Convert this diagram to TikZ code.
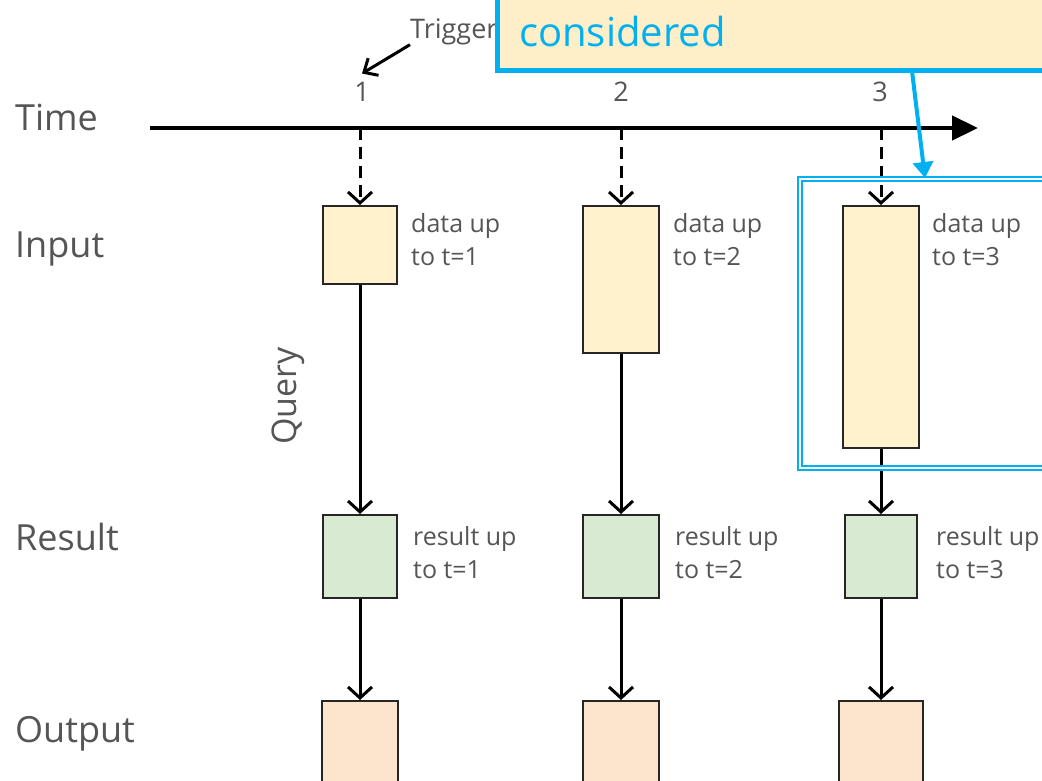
\documentclass[tikz,border=0pt]{standalone}
\usepackage{fontspec}
\setmainfont{Open Sans}
\usetikzlibrary{arrows.meta,positioning}

\definecolor{inputfill}{HTML}{FFF2CC}
\definecolor{resultfill}{HTML}{D9EAD3}
\definecolor{outputfill}{HTML}{FCE4CD}
\definecolor{calloutblue}{HTML}{00B0F0}
\definecolor{calloutfill}{HTML}{FFEFC9}
\definecolor{labelgray}{HTML}{555555}

\tikzset{
  rowlabel/.style={font=\fontsize{36}{40}\selectfont, text=labelgray, anchor=base west, inner sep=0},
  ticklabel/.style={font=\fontsize{27}{30}\selectfont, text=labelgray, anchor=base, inner sep=0},
  sidetext/.style={font=\fontsize{25}{33}\selectfont, text=labelgray, align=left, anchor=north west, inner sep=0},
  box/.style={draw=black!85, line width=2pt, anchor=north, inner sep=0},
  inputbox/.style={box, fill=inputfill},
  resultbox/.style={box, fill=resultfill, minimum height=83pt},
  outputbox/.style={box, fill=outputfill, minimum height=100pt},
  flow/.style={line width=3pt, -{Straight Barb[length=11pt, width=24pt]}},
  trigflow/.style={flow, dash pattern=on 12pt off 7pt},
}

\begin{document}
\begin{tikzpicture}[x=1pt, y=-1pt]
  \useasboundingbox (0,0) rectangle (1042,780);
  \clip (0,0) rectangle (1042,780);

  % Row labels
  \node[rowlabel] (lbltime) at (15,130) {Time};
  \node[rowlabel] (lblinput) at (15,257) {Input};
  \node[rowlabel] (lblresult) at (15,550) {Result};
  \node[rowlabel] (lbloutput) at (15,742) {Output};

  % Time axis
  \coordinate (axisstart) at (150,128);
  \coordinate (axisend) at (978,128);
  \draw[line width=4.5pt, -{Triangle[length=26pt, width=24pt]}] (axisstart) -- (axisend);

  % Trigger ticks
  \node[ticklabel] (t1) at (362,101) {1};
  \node[ticklabel] (t2) at (621,101) {2};
  \node[ticklabel] (t3) at (880,101) {3};
  \node[font=\fontsize{27}{30}\selectfont, text=labelgray, anchor=base west, inner sep=0] (trig) at (410,38) {Trigger};
  \draw[line width=3pt, -{Straight Barb[length=11pt, width=20pt]}] (trig.south west) -- ([yshift=8pt]t1.north);

  % Input boxes
  \node[inputbox, minimum width=74pt, minimum height=78pt] (in1) at (360,205) {};
  \node[inputbox, minimum width=76pt, minimum height=147pt] (in2) at (621,205) {};
  \node[inputbox, minimum width=76pt, minimum height=242pt] (in3) at (881,205) {};

  % Result boxes
  \node[resultbox, minimum width=74pt] (res1) at (360,514) {};
  \node[resultbox, minimum width=76pt] (res2) at (621,514) {};
  \node[resultbox, minimum width=72pt] (res3) at (881,514) {};

  % Output boxes
  \node[outputbox, minimum width=76pt] (out1) at (360,700) {};
  \node[outputbox, minimum width=76pt] (out2) at (621,700) {};
  \node[outputbox, minimum width=84pt] (out3) at (881,700) {};

  % Side texts
  \node[sidetext] (txtin1) at ([xshift=13pt, yshift=-8pt]in1.north east) {data up\\to t=1};
  \node[sidetext] (txtin2) at ([xshift=13pt, yshift=-8pt]in2.north east) {data up\\to t=2};
  \node[sidetext] (txtin3) at ([xshift=12pt, yshift=-8pt]in3.north east) {data up\\to t=3};
  \node[sidetext] (txtres1) at ([xshift=15pt, yshift=-12pt]res1.north east) {result up\\to t=1};
  \node[sidetext] (txtres2) at ([xshift=15pt, yshift=-12pt]res2.north east) {result up\\to t=2};
  \node[sidetext] (txtres3) at ([xshift=18pt, yshift=-12pt]res3.north east) {result up\\to t=3};

  % Triggers down to the inputs
  \draw[trigflow] (in1 |- axisstart) -- (in1.north);
  \draw[trigflow] (in2 |- axisstart) -- (in2.north);
  \draw[trigflow] (in3 |- axisstart) -- (in3.north);

  % Query, result, output
  \draw[flow] (in1.south) -- (res1.north);
  \draw[flow] (in2.south) -- (res2.north);
  \draw[flow] (in3.south) -- (res3.north);
  \draw[flow] (res1.south) -- (out1.north);
  \draw[flow] (res2.south) -- (out2.north);
  \draw[flow] (res3.south) -- (out3.north);
  \node[rotate=90, font=\fontsize{34}{36}\selectfont, text=labelgray] (query) at (288,396) {Query};

  % Callout on the third input
  \node[draw=calloutblue, double=white, double distance=1.6pt, line width=1.8pt,
        minimum width=250pt, minimum height=289pt, anchor=north] (focus) at (925,178) {};
  \node[draw=calloutblue, fill=calloutfill, line width=5pt,
        minimum width=565pt, minimum height=90pt] (callout) at (779.5,25) {};
  \node[font=\fontsize{40}{44}\selectfont, text=calloutblue, anchor=base west, inner sep=0] (calltext) at (519,46) {considered};
  \coordinate (calltail) at (912,71);
  \draw[calloutblue, line width=4pt, -{Triangle[length=16pt, width=20pt]}] (calltail) -- (focus.north);
\end{tikzpicture}
\end{document}
